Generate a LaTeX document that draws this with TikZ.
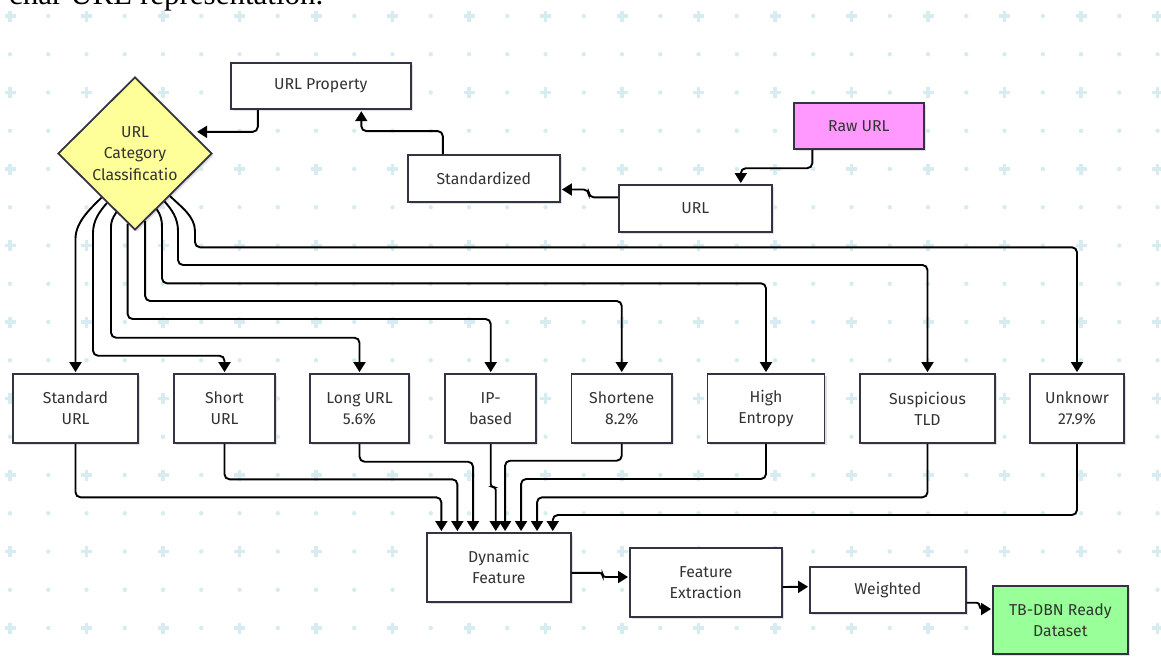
\documentclass[tikz,border=0pt]{standalone}
\usepackage{fontspec}
\newfontfamily\diafont{Fira Sans}
\newfontfamily\serifont{Liberation Serif}
\usetikzlibrary{arrows.meta,calc,shapes.geometric,shadows}
\definecolor{bdr}{RGB}{51,51,68}
\definecolor{txt}{RGB}{51,51,51}
\definecolor{gridc}{RGB}{214,236,240}
\definecolor{rawfill}{RGB}{255,153,255}
\definecolor{tbfill}{RGB}{153,255,153}
\definecolor{decfill}{RGB}{255,255,153}
\begin{document}
\begin{tikzpicture}[x=1pt,y=-1pt,
  shd/.style={general shadow={fill=black!12, shadow xshift=2pt, shadow yshift=-2pt}},
  box/.style={draw=bdr, line width=1.8pt, fill=white, rectangle, inner sep=0pt,
    align=center, text=txt, font=\diafont\fontsize{15.8}{21}\selectfont, shd},
  lbl/.style={align=center, text=txt, font=\diafont\fontsize{15.8}{21.5}\selectfont},
  arr/.style={draw=black, line width=1.9pt, -{Triangle[length=10pt,width=12pt]},
    rounded corners=5pt, shorten >=1pt},
]
\useasboundingbox (0,0) rectangle (1161,657);
\clip (0,0) rectangle (1161,657);
\fill[white] (0,0) rectangle (1161,657);
% background pattern
\foreach \i in {0,...,30}{
  \foreach \j in {0,...,17}{
    \pgfmathtruncatemacro\s{mod(\i,2)+mod(\j,2)}
    \ifnum\s=0
      \fill[gridc] ({10+38.25*\i-5.5},{16+38.25*\j-1.8}) rectangle ++(11,3.6);
      \fill[gridc] ({10+38.25*\i-1.8},{16+38.25*\j-5.5}) rectangle ++(3.6,11);
    \else
      \fill[gridc] ({10+38.25*\i},{16+38.25*\j}) circle (2.2pt);
    \fi
  }
}
% cut-off caption line at the top
\node[anchor=base west, inner sep=0pt, font=\serifont\fontsize{31}{31}\selectfont] (cap) at (9,4) {char URL representation.};

% nodes
\node[box, minimum width=180pt, minimum height=46.6pt] (prop) at (320.8,86) {URL Property};
\node[diamond, draw=bdr, line width=1.8pt, fill=decfill, minimum width=154pt, minimum height=153pt, inner sep=0pt, shd] (cat) at (135,153.5) {};
\node[lbl] (catlbl) at (cat.center) {URL\\Category\\Classificatio};
\node[box, minimum width=152.4pt, minimum height=47pt] (stdz) at (483.8,178.5) {Standardized};
\node[box, minimum width=153.3pt, minimum height=46.7pt] (url) at (695.3,208.3) {URL};
\node[box, fill=rawfill, minimum width=130.4pt, minimum height=46.6pt] (raw) at (858.8,126) {Raw URL};

\node[box, minimum width=125pt, minimum height=69pt] (std) at (75.5,408.5) {Standard\\URL};
\node[box, minimum width=101pt, minimum height=69pt] (short) at (224.5,408.5) {Short\\URL};
\node[box, minimum width=99pt, minimum height=69pt] (long) at (359.5,408.5) {Long URL\\5.6\%};
\node[box, minimum width=91pt, minimum height=69pt] (ip) at (490.7,408.5) {IP-\\based};
\node[box, minimum width=100.5pt, minimum height=69pt] (shn) at (621.75,408.5) {Shortene\\8.2\%};
\node[box, minimum width=117pt, minimum height=69pt] (high) at (766,408.5) {High\\Entropy};
\node[box, minimum width=135pt, minimum height=69pt] (susp) at (927.5,408.5) {Suspicious\\TLD};
\node[box, minimum width=94pt, minimum height=69pt] (unk) at (1077,408.5) {Unknowr\\27.9\%};

\node[box, minimum width=143.7pt, minimum height=68.7pt] (dyn) at (498.8,567.3) {Dynamic\\Feature};
\node[box, minimum width=151.7pt, minimum height=68.4pt] (fe) at (705.8,582.5) {Feature\\Extraction};
\node[box, minimum width=155.7pt, minimum height=46pt] (wt) at (887.8,589.7) {Weighted};
\node[box, fill=tbfill, minimum width=134.7pt, minimum height=68pt] (tb) at (1060.3,620) {TB-DBN Ready\\Dataset};

% top connectors
\draw[arr] ($(raw.south)+(-46.5,0)$) -- ++(0,18) -| ($(url.north)+(45.5,0)$);
\draw[arr] ($(url.west)+(0,-11)$) -- ++(-29,0) |- ($(stdz.east)+(0,11)$);
\draw[arr] ($(stdz.north)+(-41,0)$) -- ++(0,-23) -| ($(prop.south)+(40.5,0)$);
\draw[arr, shorten >=6pt] ($(prop.south)+(-63,0)$) |- ($(cat.north)!0.72!(cat.east)$);

% fan-out from the decision
\coordinate (s1) at ($(cat.west)!0.57!(cat.south)$);
\coordinate (s2) at ($(cat.west)!0.64!(cat.south)$);
\coordinate (s3) at ($(cat.west)!0.76!(cat.south)$);
\coordinate (s4) at ($(cat.west)!0.905!(cat.south)$);
\coordinate (s5) at ($(cat.east)!0.87!(cat.south)$);
\coordinate (s6) at ($(cat.east)!0.72!(cat.south)$);
\coordinate (s7) at ($(cat.east)!0.62!(cat.south)$);
\coordinate (s8) at ($(cat.east)!0.55!(cat.south)$);
\coordinate (h4) at (0,319);
\coordinate (h5) at (0,301);

\draw[arr] (s1) .. controls ($(s1)+(-10,10)$) and ($(std.north|-s1)+(0,24)$) .. ($(std.north|-s1)+(0,46)$) -- (std.north);
\draw[arr] (s2) .. controls ($(s2)+(-7,8)$) and (93,220) .. (93,238) -- (93,355.7) -| (short.north);
\draw[arr] (s3) .. controls ($(s3)+(-4,6)$) and (111,222) .. (111,232) -- (111,337.7) -| (long.north);
\draw[arr] (s4) -- (s4|-h4) -| (ip.north);
\draw[arr] (s5) -- (s5|-h5) -| (shn.north);
\draw[arr] (s6) .. controls ($(s6)+(4,6)$) and (162,220) .. (162,232) -- (162,283.3) -| (high.north);
\draw[arr] (s7) .. controls ($(s7)+(7,8)$) and (178,218) .. (178,236) -- (178,265) -| (susp.north);
\draw[arr] (s8) .. controls ($(s8)+(10,10)$) and (195,216) .. (195,236) -- (195,247.3) -| (unk.north);

% convergence into Dynamic Feature
\coordinate (in1) at ($(dyn.north west)+(15.3,0)$);
\coordinate (in2) at ($(dyn.north west)+(31.3,0)$);
\coordinate (in3) at ($(dyn.north west)+(47,0)$);
\coordinate (in4) at ($(dyn.north west)+(69.7,0)$);
\coordinate (in5) at ($(dyn.north west)+(79,0)$);
\coordinate (in6) at ($(dyn.north west)+(95,0)$);
\coordinate (in7) at ($(dyn.north west)+(111,0)$);
\coordinate (in8) at ($(dyn.north west)+(126.7,0)$);
\coordinate (b1) at (0,497.3);
\coordinate (b2) at (0,479.3);
\coordinate (b3) at (0,461.7);
\coordinate (b4) at (0,487);
\coordinate (b5) at (0,460.7);
\coordinate (b6) at (0,479);
\coordinate (b7) at (0,497.3);
\coordinate (b8) at (0,515);
\draw[arr] (std.south) -- (std.south|-b1) -| (in1);
\draw[arr] (short.south) -- (short.south|-b2) -| (in2);
\draw[arr] (long.south) -- (long.south|-b3) -| (in3);
\draw[arr, rounded corners=3pt] (ip.south) -- (ip.south|-b4) -| (in4);
\draw[arr] (shn.south) -- (shn.south|-b5) -| (in5);
\draw[arr] (high.south) -- (high.south|-b6) -| (in6);
\draw[arr] (susp.south) -- (susp.south|-b7) -| (in7);
\draw[arr] (unk.south) -- (unk.south|-b8) -| (in8);

% bottom chain
\draw[arr, rounded corners=3pt] ($(dyn.east)+(0,5.5)$) -- ++(31,0) |- ($(fe.west)+(0,-5.5)$);
\draw[arr] ($(fe.east)+(0,4.5)$) -- ($(wt.west)+(0,-3)$);
\draw[arr, rounded corners=3pt] ($(wt.east)+(0,13)$) -- ++(13,0) |- ($(tb.west)+(0,-11)$);
\end{tikzpicture}
\end{document}
